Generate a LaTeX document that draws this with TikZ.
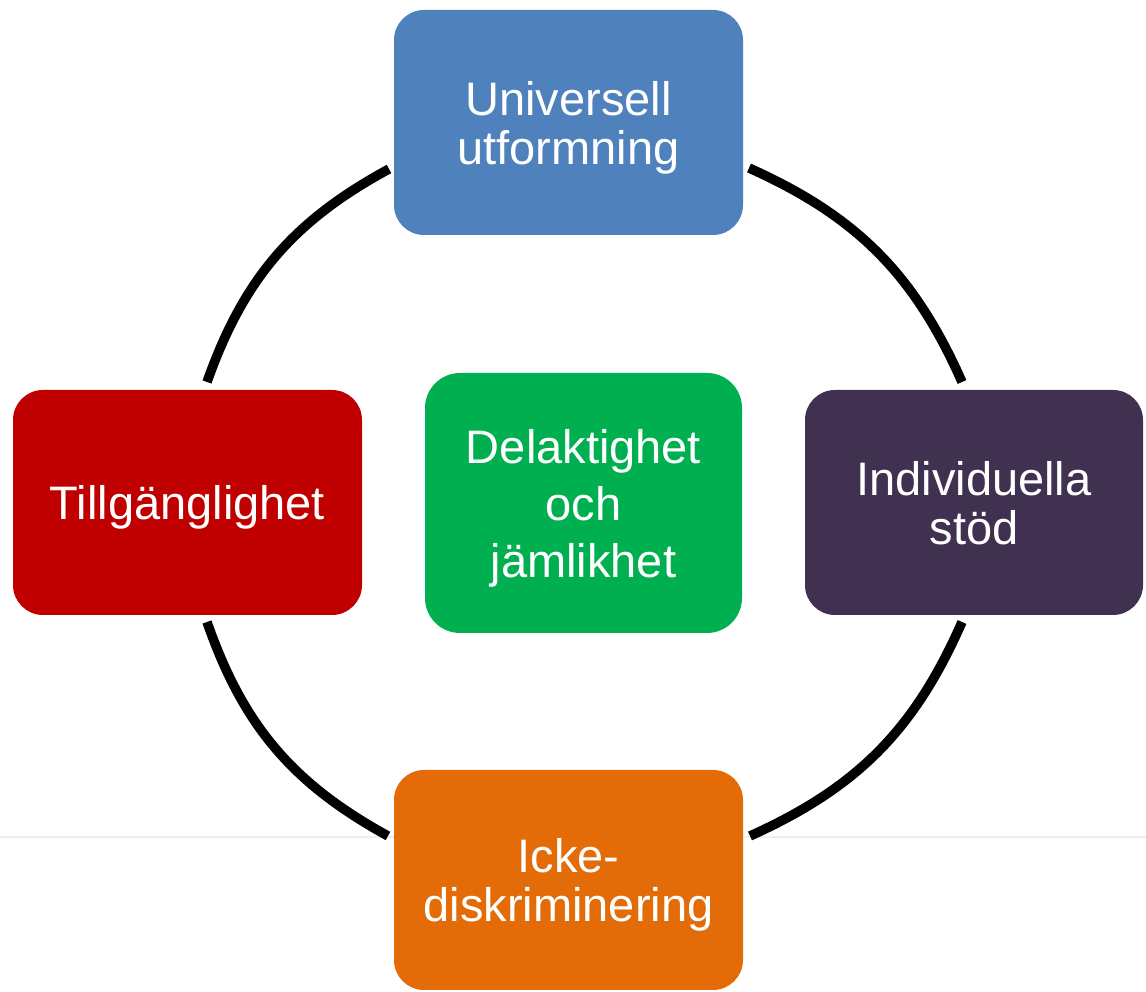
\documentclass[tikz,border=0pt]{standalone}
\usepackage{fontspec}
\setmainfont{Liberation Sans}
\definecolor{uBlue}{HTML}{4F81BD}
\definecolor{tRed}{HTML}{C00000}
\definecolor{dGreen}{HTML}{00B050}
\definecolor{iPurple}{HTML}{403151}
\definecolor{kOrange}{HTML}{E36C09}
\definecolor{faintLine}{HTML}{EFEFE9}
\begin{document}
\begin{tikzpicture}[x=1pt,y=1pt,
  box/.style={rounded corners=30pt, inner sep=0pt, text=white, align=center,
    text depth=0pt, font=\fontsize{47}{49}\selectfont},
  ring/.style={line width=9.5pt, black},
  faint/.style={draw=faintLine, line width=1.5pt}]
\useasboundingbox (0,0) rectangle (1146,992);
% faint horizontal rule
\coordinate (fL) at (0,155);
\coordinate (fR) at (1146,155);
\draw[faint] (fL) -- (fR);
% boxes
\node[box, fill=uBlue, minimum width=349pt, minimum height=225pt] (nTop) at (568.5,869.5) {Universell\\utformning};
\node[box, fill=tRed, minimum width=349pt, minimum height=225pt] (nLeft) at (187.5,489.5) {Tillgänglighet};
\node[box, fill=dGreen, minimum width=317pt, minimum height=260pt, rounded corners=35pt,
  text depth=-4pt, font=\fontsize{47}{57}\selectfont] (nCtr) at (583.5,489) {Delaktighet\\och\\jämlikhet};
\node[box, fill=iPurple, minimum width=338pt, minimum height=225pt] (nRight) at (974,489.5) {Individuella\\stöd};
\node[box, fill=kOrange, minimum width=349pt, minimum height=220pt] (nBot) at (568.5,112) {Icke-\\diskriminering};
% ring arc end points
\coordinate (a1) at (389,823);
\coordinate (b1) at (207,610);
\coordinate (a2) at (749,824);
\coordinate (b2) at (962,610);
\coordinate (a3) at (207,370);
\coordinate (b3) at (388,156);
\coordinate (a4) at (962,370);
\coordinate (b4) at (750,156);
\draw[ring] (a1) to[bend right=21] (b1);
\draw[ring] (a2) to[bend left=21] (b2);
\draw[ring] (a3) to[bend right=21] (b3);
\draw[ring] (a4) to[bend left=21] (b4);
\end{tikzpicture}
\end{document}
